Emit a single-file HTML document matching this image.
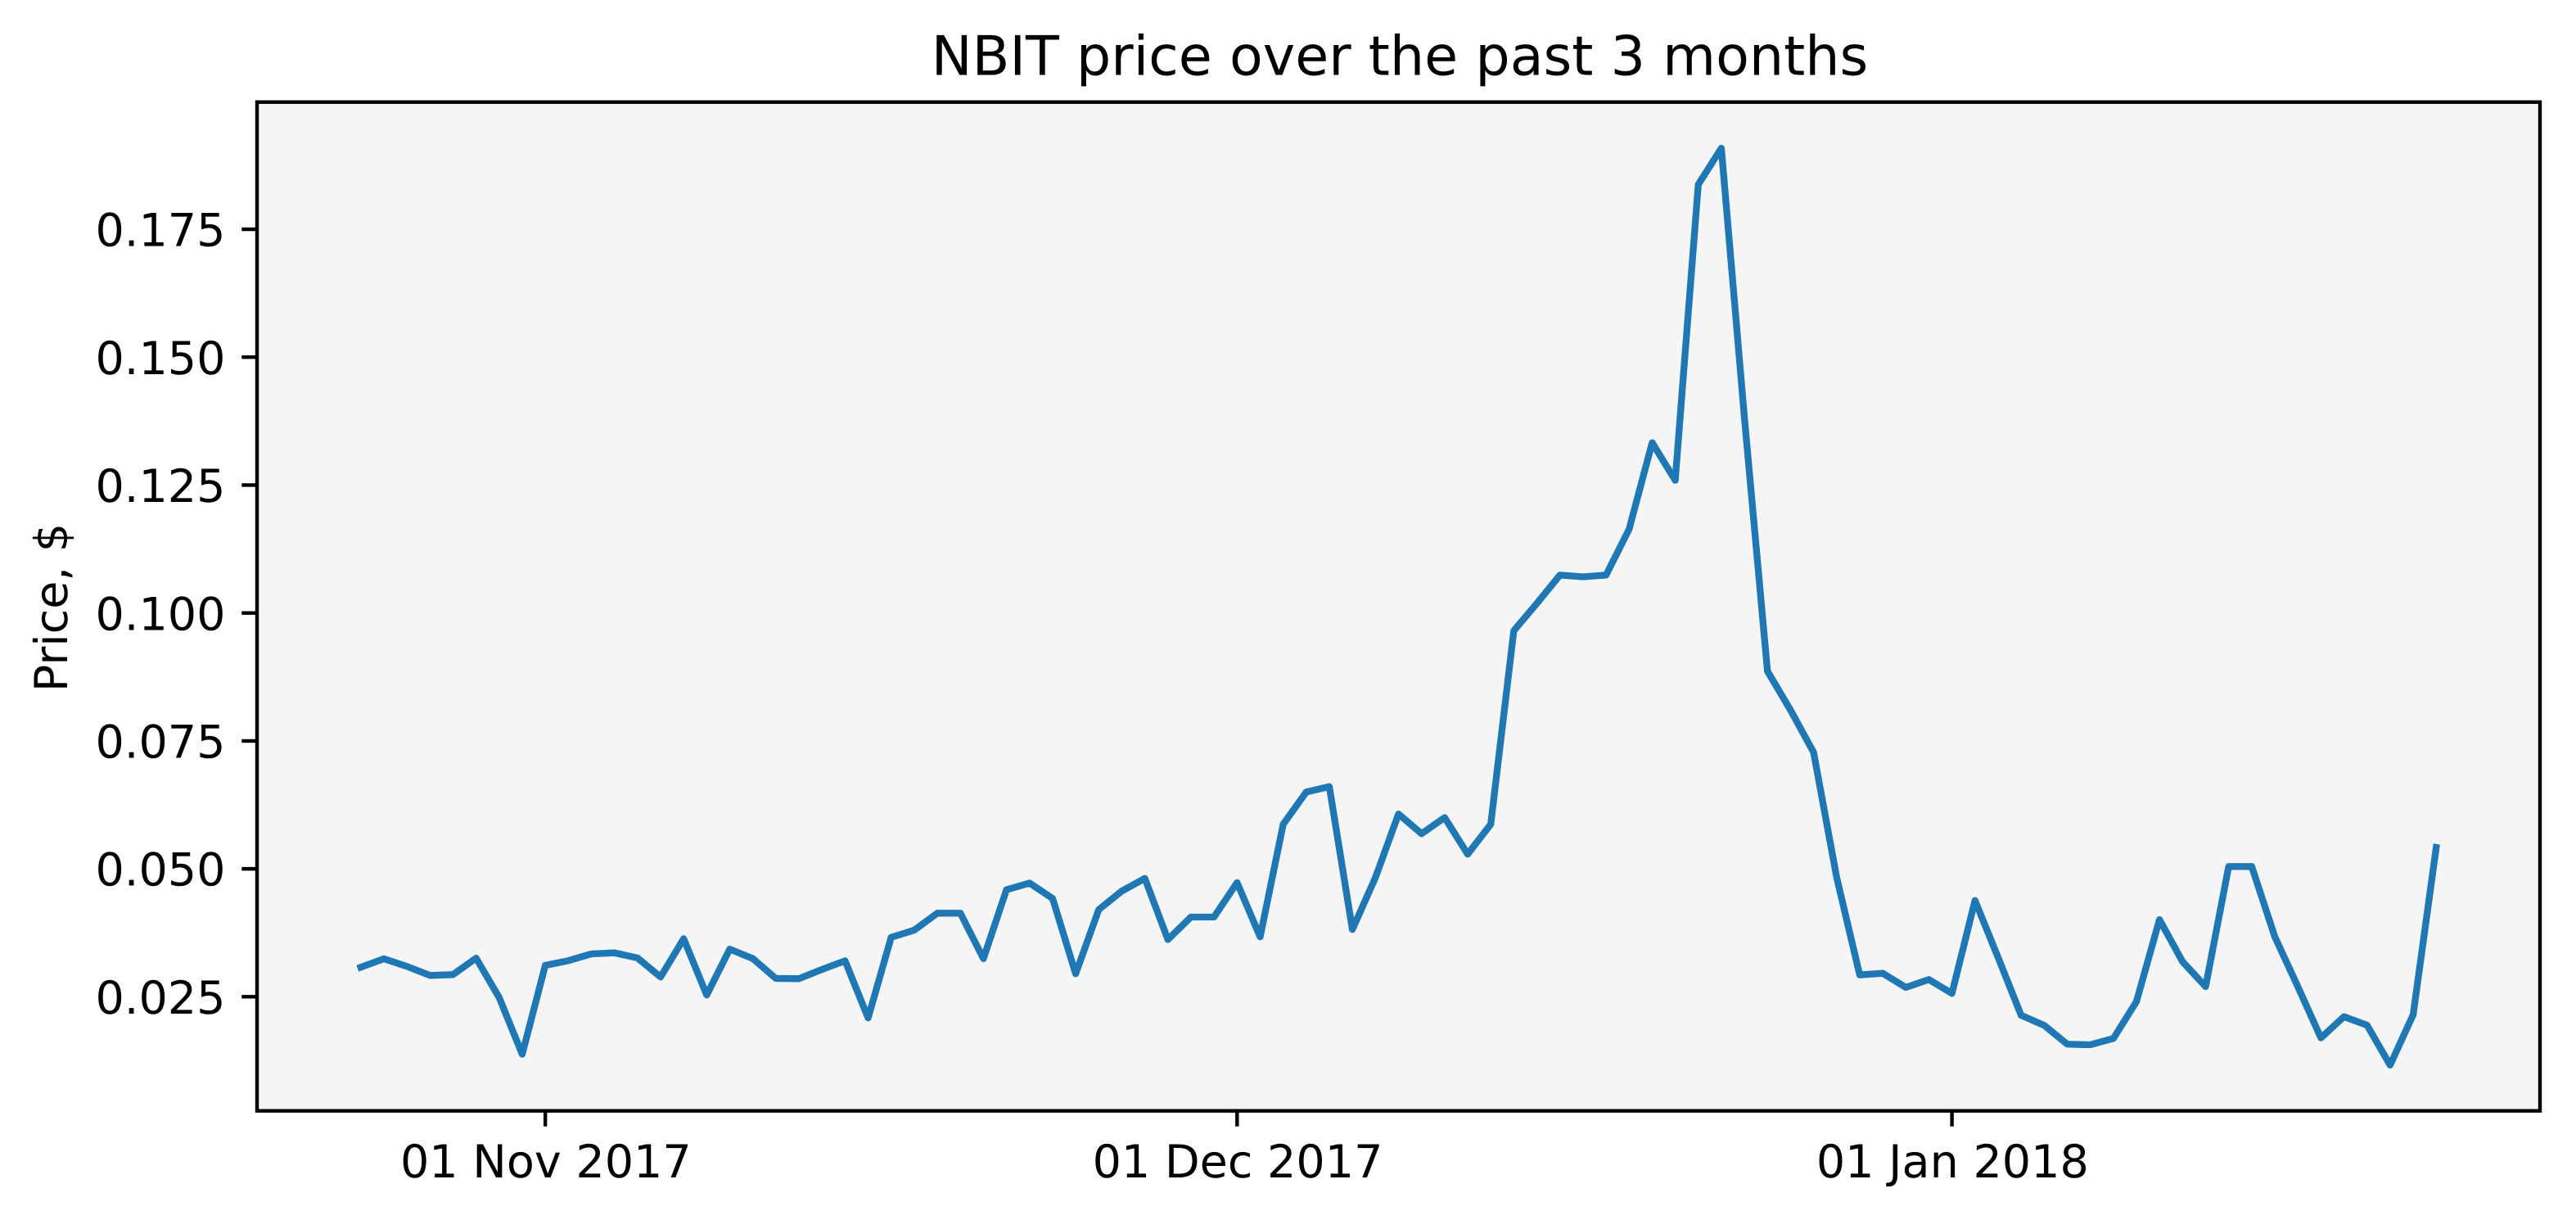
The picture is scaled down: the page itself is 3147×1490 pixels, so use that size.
<!DOCTYPE html>
<html lang="en">
<head>
<meta charset="utf-8">
<title>NBIT price over the past 3 months</title>
<style>
  html, body { margin: 0; padding: 0; background: #ffffff; }
  svg { display: block; }
  text { font-family: "DejaVu Sans", "Liberation Sans", sans-serif; fill: #000000; text-rendering: geometricPrecision; }
</style>
</head>
<body>
<svg id="chart" xmlns="http://www.w3.org/2000/svg" width="3147" height="1490" viewBox="0 0 3147 1490">
  <rect x="0" y="0" width="3147" height="1490" fill="#ffffff"/>
  <rect x="314" y="124.7" width="2789" height="1232" fill="#f5f5f5"/>
  <g id="series-layer"></g>
  <g id="tick-layer"></g>
  <rect x="314" y="124.7" width="2789" height="1232" fill="none" stroke="#000000" stroke-width="4.4" stroke-linejoin="miter"/>
  <text x="1710" y="91.5" font-size="66.67" text-anchor="middle">NBIT price over the past 3 months</text>
  <text x="0" y="0" font-size="55.56" text-anchor="middle" transform="translate(82 742) rotate(-90)">Price, $</text>
</svg>
<script>
const dates = [
  '2017-10-24','2017-10-25','2017-10-26','2017-10-27','2017-10-28','2017-10-29','2017-10-30','2017-10-31',
  '2017-11-01','2017-11-02','2017-11-03','2017-11-04','2017-11-05','2017-11-06','2017-11-07','2017-11-08','2017-11-09','2017-11-10',
  '2017-11-11','2017-11-12','2017-11-13','2017-11-14','2017-11-15','2017-11-16','2017-11-17','2017-11-18','2017-11-19','2017-11-20',
  '2017-11-21','2017-11-22','2017-11-23','2017-11-24','2017-11-25','2017-11-26','2017-11-27','2017-11-28','2017-11-29','2017-11-30',
  '2017-12-01','2017-12-02','2017-12-03','2017-12-04','2017-12-05','2017-12-06','2017-12-07','2017-12-08','2017-12-09','2017-12-10',
  '2017-12-11','2017-12-12','2017-12-13','2017-12-14','2017-12-15','2017-12-16','2017-12-17','2017-12-18','2017-12-19','2017-12-20',
  '2017-12-21','2017-12-22','2017-12-23','2017-12-24','2017-12-25','2017-12-26','2017-12-27','2017-12-28','2017-12-29','2017-12-30','2017-12-31',
  '2018-01-01','2018-01-02','2018-01-03','2018-01-04','2018-01-05','2018-01-06','2018-01-07','2018-01-08','2018-01-09','2018-01-10',
  '2018-01-11','2018-01-12','2018-01-13','2018-01-14','2018-01-15','2018-01-16','2018-01-17','2018-01-18','2018-01-19','2018-01-20','2018-01-21','2018-01-22'
];
const prices = [
  0.03077,0.03242,0.03093,0.02917,0.02933,0.03255,0.02485,0.01377,
  0.03114,0.03205,0.03338,0.03359,0.03258,0.02886,0.03634,0.02534,0.03431,0.03246,
  0.02858,0.02853,0.03034,0.03202,0.02086,0.03661,0.03802,0.04133,0.04133,0.03245,
  0.04591,0.04722,0.04421,0.02950,0.04202,0.04565,0.04813,0.03618,0.04058,0.04058,
  0.04730,0.03671,0.05871,0.06501,0.06607,0.03815,0.04831,0.06071,0.05687,0.06002,
  0.05287,0.05871,0.09654,0.10187,0.10741,0.10707,0.10741,0.11638,0.13328,0.12594,
  0.18374,0.19084,0.13819,0.08862,0.08102,0.07278,0.04834,0.02927,0.02959,0.02682,0.02837,
  0.02565,0.04381,0.03269,0.02138,0.01941,0.01573,0.01561,0.01685,0.02405,0.04007,
  0.03186,0.02698,0.05045,0.05045,0.03674,0.02698,0.01697,0.02110,0.01945,0.01164,0.02149,0.05418
];
const yTickValues = [0.025,0.05,0.075,0.1,0.125,0.15,0.175];
const yTickLabels = ['0.025','0.050','0.075','0.100','0.125','0.150','0.175'];
const xTickDates = ['2017-11-01','2017-12-01','2018-01-01'];
const xTickLabels = ['01 Nov 2017','01 Dec 2017','01 Jan 2018'];

const SVG_NS = 'http://www.w3.org/2000/svg';
const PLOT = { left: 314, right: 3103, top: 124.7, bottom: 1356.7 };
const X_DOMAIN = [Date.UTC(2017, 9, 19, 12), Date.UTC(2018, 0, 26, 12)];
const Y_DOMAIN = [0.0027, 0.19985];

function xScale(iso) {
  const t = Date.parse(iso + 'T00:00:00Z');
  return PLOT.left + (t - X_DOMAIN[0]) / (X_DOMAIN[1] - X_DOMAIN[0]) * (PLOT.right - PLOT.left);
}
function yScale(v) {
  return PLOT.bottom - (v - Y_DOMAIN[0]) / (Y_DOMAIN[1] - Y_DOMAIN[0]) * (PLOT.bottom - PLOT.top);
}
function make(tag, attrs) {
  const el = document.createElementNS(SVG_NS, tag);
  Object.keys(attrs).forEach(function (k) { el.setAttribute(k, attrs[k]); });
  return el;
}

const seriesLayer = document.getElementById('series-layer');
const tickLayer = document.getElementById('tick-layer');

const points = prices.map(function (p, i) {
  return xScale(dates[i]).toFixed(2) + ',' + yScale(p).toFixed(2);
}).join(' ');
const priceLine = make('polyline', {
  points: points, fill: 'none', stroke: '#1f77b4', 'stroke-width': 8.33,
  'stroke-linejoin': 'round', 'stroke-linecap': 'square'
});


seriesLayer.appendChild(priceLine);

yTickValues.forEach(function (v, i) {
  const y = yScale(v);
  const tick = make('line', { x1: 295.3, x2: PLOT.left, y1: y, y2: y, stroke: '#000000', 'stroke-width': 4.4 });
  
  
  tickLayer.appendChild(tick);
  const label = make('text', { x: 275.5, y: y + 20.6, 'font-size': 55.56, 'text-anchor': 'end' });
  label.textContent = yTickLabels[i];
  
  
  tickLayer.appendChild(label);
});

xTickDates.forEach(function (d, i) {
  const x = xScale(d);
  const tick = make('line', { x1: x, x2: x, y1: PLOT.bottom, y2: 1375.7, stroke: '#000000', 'stroke-width': 4.4 });
  
  
  tickLayer.appendChild(tick);
  const label = make('text', { x: x + 0.7, y: 1438, 'font-size': 55.56, 'text-anchor': 'middle' });
  label.textContent = xTickLabels[i];
  
  
  tickLayer.appendChild(label);
});
</script>
</body>
</html>
